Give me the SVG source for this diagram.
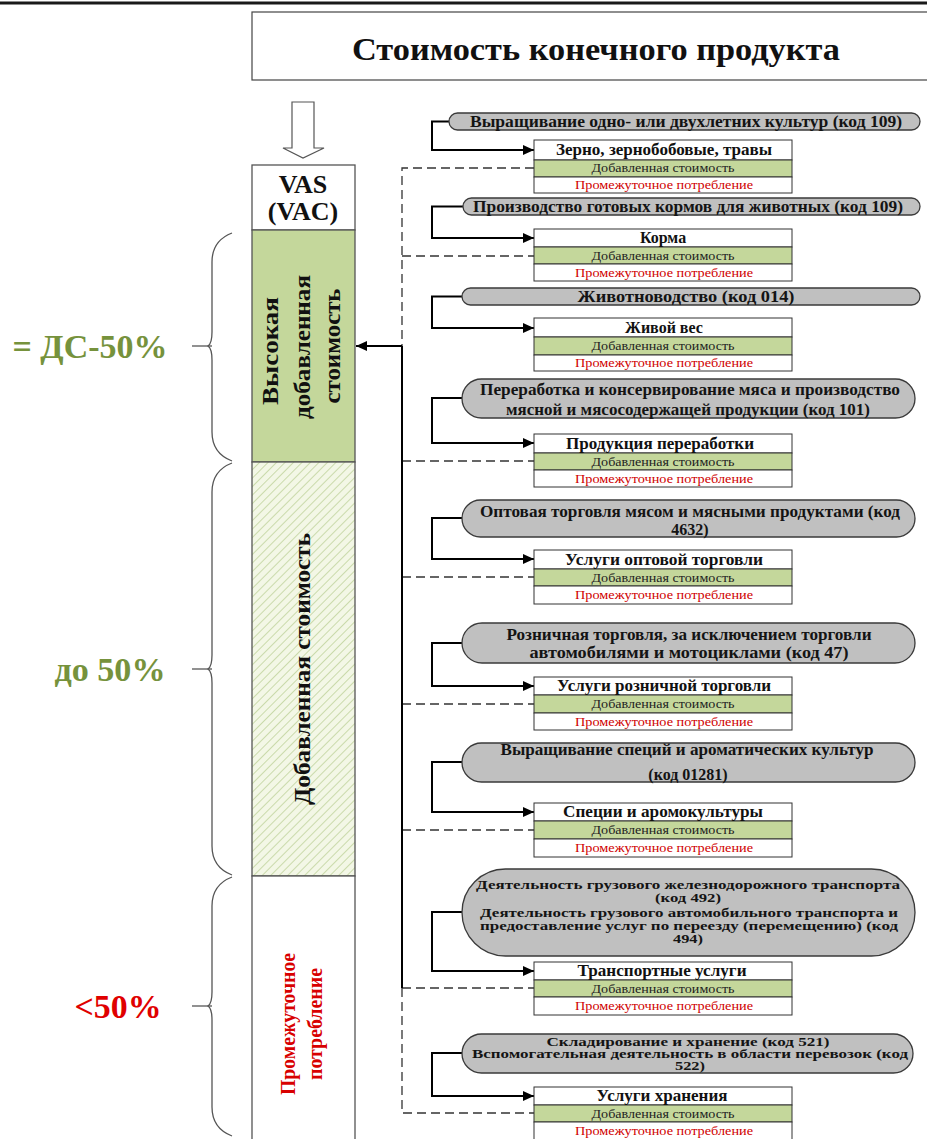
<svg xmlns="http://www.w3.org/2000/svg" width="927" height="1139" viewBox="0 0 927 1139">
<style>
.serif{font-family:"Liberation Serif","Times New Roman",serif}
.pill{fill:#c0c0c0;stroke:#3a3a3a;stroke-width:1.3}
.pt{font-family:"Liberation Serif","Times New Roman",serif;font-weight:bold;font-size:16px;fill:#141414;text-anchor:middle}
.pt2{font-family:"Liberation Serif","Times New Roman",serif;font-weight:bold;font-size:13.5px;fill:#141414;text-anchor:middle}
.pt3{font-family:"Liberation Serif","Times New Roman",serif;font-weight:bold;font-size:12.5px;fill:#141414;text-anchor:middle}
.rw{fill:#fff;stroke:#333;stroke-width:1}
.rg{fill:#c4d79b;stroke:#333;stroke-width:1}
.ht{font-family:"Liberation Serif","Times New Roman",serif;font-weight:bold;font-size:16px;fill:#111;text-anchor:middle}
.vt{font-family:"Liberation Serif","Times New Roman",serif;font-size:12.5px;fill:#222;text-anchor:middle}
.it{font-family:"Liberation Serif","Times New Roman",serif;font-size:12.5px;fill:#d00000;text-anchor:middle}
.elbow{fill:none;stroke:#000;stroke-width:2}
.dash{fill:none;stroke:#333;stroke-width:1.3;stroke-dasharray:9 5}
.brace{fill:none;stroke:#555;stroke-width:1.3}
.col{stroke:#555;stroke-width:1.3}
.big{font-family:"Liberation Serif","Times New Roman",serif;font-weight:bold;font-size:34px;text-anchor:middle}
</style>
<defs>
<marker id="ah" markerUnits="userSpaceOnUse" markerWidth="12" markerHeight="10" refX="11" refY="5" orient="auto">
<path d="M0,0 L11,5 L0,10 Z" fill="#000"/>
</marker>
<pattern id="hatch" patternUnits="userSpaceOnUse" width="6" height="6" patternTransform="rotate(45)">
<rect width="6" height="6" fill="#f3f7e6"/>
<line x1="0" y1="0" x2="0" y2="6" stroke="#a9c37a" stroke-width="1.1"/>
</pattern>
</defs>
<rect width="927" height="1139" fill="#fff"/>
<line x1="0" y1="3" x2="927" y2="3" stroke="#1a1a1a" stroke-width="3"/>

<g id="title">
<rect x="252" y="12" width="690" height="68" fill="#fff" stroke="#444" stroke-width="1.2"/>
<text class="serif" x="596" y="60" font-size="32" font-weight="bold" text-anchor="middle" textLength="488" lengthAdjust="spacingAndGlyphs" fill="#111">Стоимость конечного продукта</text>
</g>

<g id="down-arrow">
<path d="M292,102 H314 V148 H324 L303,158 L283,148 H292 Z" fill="#fff" stroke="#555" stroke-width="1.2"/>
</g>

<g id="column">
<rect x="252" y="165" width="103" height="65" fill="#fff" class="col"/>
<text class="serif" x="303" y="193" font-size="26" font-weight="bold" text-anchor="middle" fill="#111">VAS</text>
<text class="serif" x="303" y="220" font-size="26" font-weight="bold" text-anchor="middle" fill="#111">(VAC)</text>
<rect x="252" y="230" width="103" height="232" fill="#c4d79b" class="col"/>
<text class="serif" transform="translate(278,351) rotate(-90)" font-size="24" font-weight="bold" text-anchor="middle" fill="#111" textLength="108" lengthAdjust="spacingAndGlyphs">Высокая</text>
<text class="serif" transform="translate(310,347) rotate(-90)" font-size="24" font-weight="bold" text-anchor="middle" fill="#111" textLength="144" lengthAdjust="spacingAndGlyphs">добавленная</text>
<text class="serif" transform="translate(340,346) rotate(-90)" font-size="24" font-weight="bold" text-anchor="middle" fill="#111" textLength="115" lengthAdjust="spacingAndGlyphs">стоимость</text>
<rect x="252" y="462" width="103" height="414" fill="url(#hatch)" class="col"/>
<text class="serif" transform="translate(310,669) rotate(-90)" font-size="24" font-weight="bold" text-anchor="middle" fill="#111" textLength="272" lengthAdjust="spacingAndGlyphs">Добавленная стоимость</text>
<rect x="252" y="876" width="103" height="270" fill="#fff" class="col"/>
<text class="serif" transform="translate(295,1024) rotate(-90)" font-size="20" font-weight="bold" text-anchor="middle" fill="#d80000" textLength="142" lengthAdjust="spacingAndGlyphs">Промежуточное</text>
<text class="serif" transform="translate(322,1024) rotate(-90)" font-size="20" font-weight="bold" text-anchor="middle" fill="#d80000" textLength="112" lengthAdjust="spacingAndGlyphs">потребление</text>
</g>

<g id="brace-high">
<path class="brace" d="M232,233 C219,238 212,248 212,262 V332 C212,340 211,344 208,346 C211,348 212,352 212,360 V432 C212,446 219,456 232,461"/>
<line class="brace" x1="192" y1="346" x2="212" y2="346"/>
<text class="big" x="90" y="358" fill="#76923c" textLength="155" lengthAdjust="spacingAndGlyphs">= ДС-50%</text>
</g>
<g id="brace-mid">
<path class="brace" d="M232,463 C219,468 212,478 212,492 V655 C212,663 211,667 208,669 C211,671 212,675 212,683 V846 C212,860 219,870 232,875"/>
<line class="brace" x1="192" y1="669" x2="212" y2="669"/>
<text class="big" x="110" y="681" fill="#76923c" textLength="111" lengthAdjust="spacingAndGlyphs">до 50%</text>
</g>
<g id="brace-low">
<path class="brace" d="M232,877 C219,882 212,892 212,906 V992 C212,1000 211,1004 208,1006 C211,1008 212,1012 212,1020 V1107 C212,1121 219,1131 232,1136"/>
<line class="brace" x1="192" y1="1006" x2="212" y2="1006"/>
<text class="big" x="118" y="1018" fill="#e00000" textLength="87" lengthAdjust="spacingAndGlyphs">&lt;50%</text>
</g>

<g id="connectors">
<path class="dash" d="M534,168 H402 V1113 H534"/>
<path class="dash" d="M402,256 H534 M402,461 H534 M402,577 H534 M402,704 H534 M402,830 H534 M402,988 H534"/>
<path class="elbow" d="M402,988 V346"/>
<path class="elbow" d="M402,346 H356" marker-end="url(#ah)"/>
<path class="elbow" d="M449,121.5 H432 V150 H534" marker-end="url(#ah)"/>
<path class="elbow" d="M463,206.5 H432 V238 H534" marker-end="url(#ah)"/>
<path class="elbow" d="M462,296.5 H432 V328 H534" marker-end="url(#ah)"/>
<path class="elbow" d="M462,398 H432 V443 H534" marker-end="url(#ah)"/>
<path class="elbow" d="M462,518 H432 V559 H534" marker-end="url(#ah)"/>
<path class="elbow" d="M462,643 H432 V686 H534" marker-end="url(#ah)"/>
<path class="elbow" d="M462,762 H432 V812 H534" marker-end="url(#ah)"/>
<path class="elbow" d="M462,912 H432 V971 H534" marker-end="url(#ah)"/>
<path class="elbow" d="M462,1053 H432 V1096 H534" marker-end="url(#ah)"/>
</g>

<g id="act-109a">
<rect class="pill" x="449" y="113" width="471" height="17" rx="8.5"/>
<text class="pt" x="686" y="127" textLength="432" lengthAdjust="spacingAndGlyphs">Выращивание одно- или двухлетних культур (код 109)</text>
</g>
<g id="prod-grain">
<rect class="rw" x="534" y="140" width="258" height="20"/>
<rect class="rg" x="534" y="160" width="258" height="17"/>
<rect class="rw" x="534" y="177" width="258" height="16"/>
<text class="ht" x="664" y="155" textLength="216" lengthAdjust="spacingAndGlyphs">Зерно, зернобобовые, травы</text>
<text class="vt" x="663" y="172" textLength="143" lengthAdjust="spacingAndGlyphs">Добавленная стоимость</text>
<text class="it" x="664" y="189" textLength="178" lengthAdjust="spacingAndGlyphs">Промежуточное потребление</text>
</g>

<g id="act-109b">
<rect class="pill" x="463" y="198" width="457" height="17" rx="8.5"/>
<text class="pt" x="688" y="212" textLength="430" lengthAdjust="spacingAndGlyphs">Производство готовых кормов для животных (код 109)</text>
</g>
<g id="prod-feed">
<rect class="rw" x="534" y="229" width="258" height="18"/>
<rect class="rg" x="534" y="247" width="258" height="17"/>
<rect class="rw" x="534" y="264" width="258" height="17"/>
<text class="ht" x="663" y="243">Корма</text>
<text class="vt" x="663" y="260" textLength="143" lengthAdjust="spacingAndGlyphs">Добавленная стоимость</text>
<text class="it" x="664" y="277" textLength="178" lengthAdjust="spacingAndGlyphs">Промежуточное потребление</text>
</g>

<g id="act-014">
<rect class="pill" x="462" y="288" width="458" height="17" rx="8.5"/>
<text class="pt" x="686" y="302" textLength="217" lengthAdjust="spacingAndGlyphs">Животноводство (код 014)</text>
</g>
<g id="prod-live">
<rect class="rw" x="534" y="318" width="258" height="19"/>
<rect class="rg" x="534" y="337" width="258" height="18"/>
<rect class="rw" x="534" y="355" width="258" height="16"/>
<text class="ht" x="664" y="333">Живой вес</text>
<text class="vt" x="663" y="350" textLength="143" lengthAdjust="spacingAndGlyphs">Добавленная стоимость</text>
<text class="it" x="664" y="367" textLength="178" lengthAdjust="spacingAndGlyphs">Промежуточное потребление</text>
</g>

<g id="act-101">
<rect class="pill" x="462" y="379" width="453" height="39" rx="19.5"/>
<text class="pt" x="690" y="395" textLength="420" lengthAdjust="spacingAndGlyphs">Переработка и консервирование мяса и производство</text>
<text class="pt" x="688" y="415" textLength="364" lengthAdjust="spacingAndGlyphs">мясной и мясосодержащей продукции (код 101)</text>
</g>
<g id="prod-processed">
<rect class="rw" x="534" y="434" width="258" height="19"/>
<rect class="rg" x="534" y="453" width="258" height="17"/>
<rect class="rw" x="534" y="470" width="258" height="17"/>
<text class="ht" x="660" y="449" textLength="188" lengthAdjust="spacingAndGlyphs">Продукция переработки</text>
<text class="vt" x="663" y="466" textLength="143" lengthAdjust="spacingAndGlyphs">Добавленная стоимость</text>
<text class="it" x="664" y="483" textLength="178" lengthAdjust="spacingAndGlyphs">Промежуточное потребление</text>
</g>

<g id="act-4632">
<rect class="pill" x="462" y="500" width="453" height="37" rx="18.5"/>
<text class="pt" x="690" y="517" textLength="420" lengthAdjust="spacingAndGlyphs">Оптовая торговля мясом и мясными продуктами (код</text>
<text class="pt" x="690" y="535">4632)</text>
</g>
<g id="prod-wholesale">
<rect class="rw" x="534" y="550" width="258" height="19"/>
<rect class="rg" x="534" y="569" width="258" height="17"/>
<rect class="rw" x="534" y="586" width="258" height="18"/>
<text class="ht" x="664" y="565" textLength="198" lengthAdjust="spacingAndGlyphs">Услуги оптовой торговли</text>
<text class="vt" x="663" y="582" textLength="143" lengthAdjust="spacingAndGlyphs">Добавленная стоимость</text>
<text class="it" x="664" y="599" textLength="178" lengthAdjust="spacingAndGlyphs">Промежуточное потребление</text>
</g>

<g id="act-47">
<rect class="pill" x="462" y="623" width="453" height="40" rx="20"/>
<text class="pt" x="689" y="640" textLength="365" lengthAdjust="spacingAndGlyphs">Розничная торговля, за исключением торговли</text>
<text class="pt" x="689" y="658" textLength="319" lengthAdjust="spacingAndGlyphs">автомобилями и мотоциклами (код 47)</text>
</g>
<g id="prod-retail">
<rect class="rw" x="534" y="677" width="258" height="18"/>
<rect class="rg" x="534" y="695" width="258" height="18"/>
<rect class="rw" x="534" y="713" width="258" height="17"/>
<text class="ht" x="664" y="691" textLength="214" lengthAdjust="spacingAndGlyphs">Услуги розничной торговли</text>
<text class="vt" x="663" y="708" textLength="143" lengthAdjust="spacingAndGlyphs">Добавленная стоимость</text>
<text class="it" x="664" y="726" textLength="178" lengthAdjust="spacingAndGlyphs">Промежуточное потребление</text>
</g>

<g id="act-01281">
<rect class="pill" x="462" y="743" width="453" height="39" rx="19.5"/>
<text class="pt" x="687" y="755" textLength="373" lengthAdjust="spacingAndGlyphs">Выращивание специй и ароматических культур</text>
<text class="pt" x="688" y="780">(код 01281)</text>
</g>
<g id="prod-spices">
<rect class="rw" x="534" y="803" width="258" height="18"/>
<rect class="rg" x="534" y="821" width="258" height="18"/>
<rect class="rw" x="534" y="839" width="258" height="18"/>
<text class="ht" x="663" y="817" textLength="200" lengthAdjust="spacingAndGlyphs">Специи и аромокультуры</text>
<text class="vt" x="663" y="834" textLength="143" lengthAdjust="spacingAndGlyphs">Добавленная стоимость</text>
<text class="it" x="664" y="852" textLength="178" lengthAdjust="spacingAndGlyphs">Промежуточное потребление</text>
</g>

<g id="act-492-494">
<rect class="pill" x="462" y="869" width="453" height="87" rx="43.5"/>
<text class="pt2" x="688" y="889" textLength="424" lengthAdjust="spacingAndGlyphs">Деятельность грузового железнодорожного транспорта</text>
<text class="pt2" x="688" y="902" textLength="66" lengthAdjust="spacingAndGlyphs">(код 492)</text>
<text class="pt2" x="689" y="917" textLength="418" lengthAdjust="spacingAndGlyphs">Деятельность грузового автомобильного транспорта и</text>
<text class="pt2" x="689" y="930" textLength="418" lengthAdjust="spacingAndGlyphs">предоставление услуг по переезду (перемещению) (код</text>
<text class="pt2" x="688" y="943" textLength="30" lengthAdjust="spacingAndGlyphs">494)</text>
</g>
<g id="prod-transport">
<rect class="rw" x="534" y="962" width="258" height="18"/>
<rect class="rg" x="534" y="980" width="258" height="17"/>
<rect class="rw" x="534" y="997" width="258" height="18"/>
<text class="ht" x="662" y="976" textLength="169" lengthAdjust="spacingAndGlyphs">Транспортные услуги</text>
<text class="vt" x="663" y="993" textLength="143" lengthAdjust="spacingAndGlyphs">Добавленная стоимость</text>
<text class="it" x="664" y="1010" textLength="178" lengthAdjust="spacingAndGlyphs">Промежуточное потребление</text>
</g>

<g id="act-521-522">
<rect class="pill" x="462" y="1034" width="451" height="39" rx="19.5"/>
<text class="pt3" x="688" y="1046" textLength="283" lengthAdjust="spacingAndGlyphs">Складирование и хранение (код 521)</text>
<text class="pt3" x="690" y="1058" textLength="436" lengthAdjust="spacingAndGlyphs">Вспомогательная деятельность в области перевозок (код</text>
<text class="pt3" x="690" y="1070" textLength="30" lengthAdjust="spacingAndGlyphs">522)</text>
</g>
<g id="prod-storage">
<rect class="rw" x="534" y="1087" width="258" height="18"/>
<rect class="rg" x="534" y="1105" width="258" height="17"/>
<rect class="rw" x="534" y="1122" width="258" height="18"/>
<text class="ht" x="662" y="1101" textLength="131" lengthAdjust="spacingAndGlyphs">Услуги хранения</text>
<text class="vt" x="663" y="1118" textLength="143" lengthAdjust="spacingAndGlyphs">Добавленная стоимость</text>
<text class="it" x="664" y="1135" textLength="178" lengthAdjust="spacingAndGlyphs">Промежуточное потребление</text>
</g>
</svg>
